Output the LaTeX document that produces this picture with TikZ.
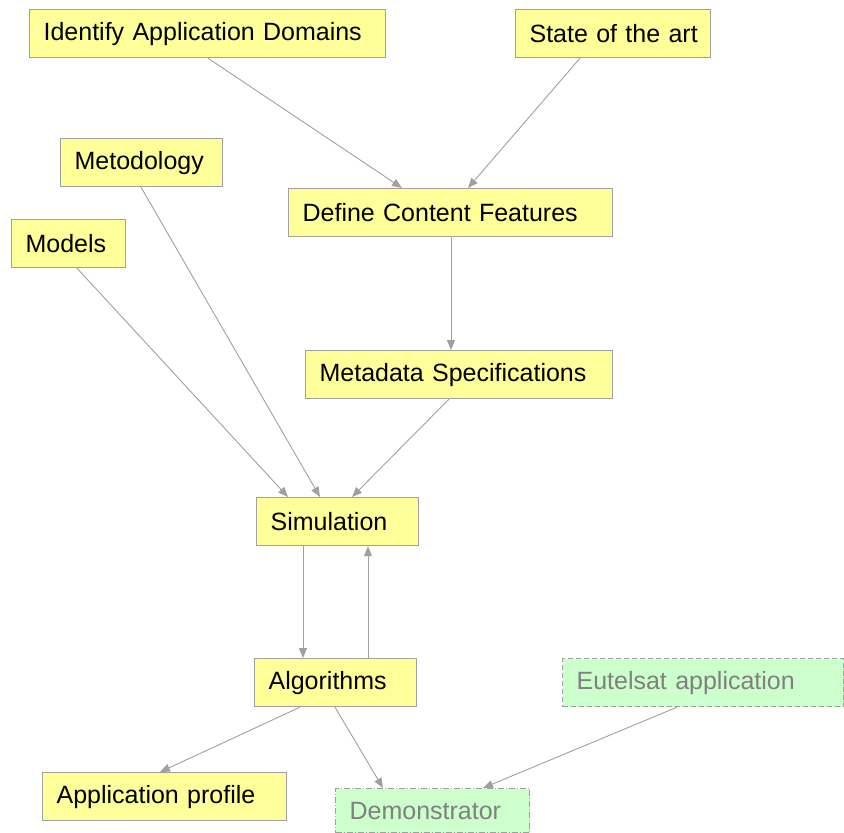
\documentclass[tikz,border=0pt]{standalone}
\usepackage{fontspec}
\setmainfont{Liberation Sans}
\usetikzlibrary{arrows.meta,calc}
\definecolor{boxyellow}{HTML}{FFFF99}
\definecolor{boxgreen}{HTML}{CCFFCC}
\definecolor{edgegray}{HTML}{A0A0A0}
\definecolor{textgray}{HTML}{808080}
\tikzset{
  box/.style={draw=edgegray, line width=1.2pt, fill=boxyellow, anchor=north west,
    minimum height=48pt, inner xsep=14pt, inner ysep=0pt, align=left,
    font=\fontsize{25}{30}\selectfont, text=black},
  greenbox/.style={box, fill=boxgreen, text=textgray},
  arr/.style={draw=edgegray, line width=0.9pt, -{Triangle[length=10pt,width=8pt]}},
}
\begin{document}
\begin{tikzpicture}[x=1pt,y=-1pt]
\useasboundingbox (0,0) rectangle (844,833);
\node[box, text width=328pt] (ida) at (29,9) {\mbox{Identify Application Domains}};
\node[box, text width=167pt] (sota) at (515,9) {\mbox{State of the art}};
\node[box, text width=134pt] (met) at (60,138) {\mbox{Metodology}};
\node[box, text width=296pt] (dcf) at (288,188) {\mbox{Define Content Features}};
\node[box, text width=86pt] (mod) at (11,219) {\mbox{Models}};
\node[box, text width=279pt] (mds) at (305,350) {\mbox{Metadata Specifications}};
\node[box, text width=134pt] (sim) at (256,497) {\mbox{Simulation}};
\node[box, text width=134pt] (alg) at (254,658) {\mbox{Algorithms}};
\node[greenbox, dashed, dash pattern=on 5pt off 3pt, text width=253pt] (eut) at (562,658) {\mbox{Eutelsat application}};
\node[box, text width=216pt] (app) at (42,772) {\mbox{Application profile}};
\node[greenbox, dash pattern=on 6pt off 2pt on 1pt off 2pt, minimum height=44pt, text width=166pt] (demo) at (335,788) {\mbox{Demonstrator}};
\draw[arr] ($(ida.south west)+(179,0)$) -- ($(dcf.north west)+(114,0)$);
\draw[arr] ($(sota.south west)+(65,0)$) -- ($(dcf.north west)+(180,0)$);
\draw[arr] ($(dcf.south west)+(163,0)$) -- ($(mds.north west)+(146,0)$);
\draw[arr] ($(met.south west)+(81,0)$) -- ($(sim.north west)+(64,0)$);
\draw[arr] ($(mod.south west)+(66,0)$) -- ($(sim.north west)+(32,0)$);
\draw[arr] ($(mds.south west)+(144,0)$) -- ($(sim.north west)+(96,0)$);
\draw[arr] ($(sim.south west)+(47,0)$) -- ($(alg.north west)+(49,0)$);
\draw[arr] ($(alg.north west)+(114,0)$) -- ($(sim.south west)+(112,0)$);
\draw[arr] ($(alg.south west)+(46,0)$) -- ($(app.north west)+(118,0)$);
\draw[arr] ($(alg.south west)+(81,0)$) -- ($(demo.north west)+(48,0)$);
\draw[arr] ($(eut.south west)+(115,0)$) -- ($(demo.north west)+(148,0)$);
\end{tikzpicture}
\end{document}
